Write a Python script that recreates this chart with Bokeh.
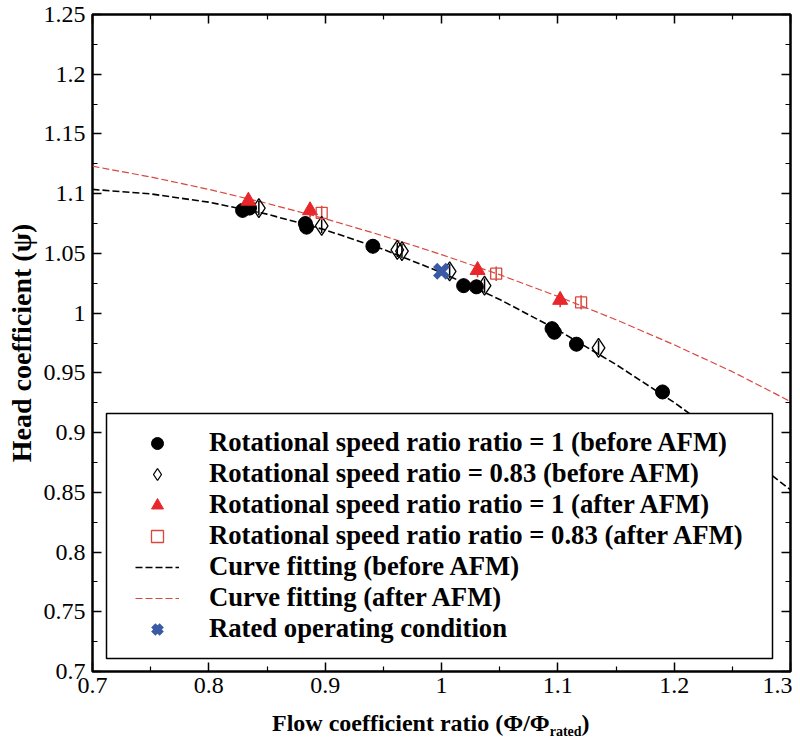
from bokeh.plotting import figure
from bokeh.models import (FixedTicker, CustomJSTickFormatter, LinearAxis, Div,
                          Legend, LegendItem, BoxAnnotation, Range1d)
from bokeh.layouts import column
from bokeh.embed import file_html
from bokeh.resources import INLINE
import math

# ---------------- data ----------------
# Rotational speed ratio = 1 (before AFM)
s1b_x = [0.829, 0.835, 0.883, 0.884, 0.941, 1.019, 1.030, 1.095, 1.097, 1.116, 1.190]
s1b_y = [1.086, 1.088, 1.075, 1.072, 1.056, 1.023, 1.022, 0.987, 0.984, 0.974, 0.934]
# Rotational speed ratio = 0.83 (before AFM)
s083b_x = [0.843, 0.897, 0.962, 0.966, 1.007, 1.037, 1.135]
s083b_y = [1.088, 1.073, 1.053, 1.052, 1.035, 1.023, 0.971]
# Rotational speed ratio = 1 (after AFM)
s1a_x = [0.834, 0.887, 1.031, 1.102]
s1a_y = [1.094, 1.086, 1.036, 1.011]
# Rotational speed ratio = 0.83 (after AFM)
s083a_x = [0.897, 1.047, 1.120]
s083a_y = [1.084, 1.033, 1.009]
# error bar half-length
err_val = 0.006
# Curve fitting (before / after AFM), sampled along the drawn curves
fit_x = [0.70, 0.75, 0.80, 0.85, 0.90, 0.95, 1.00, 1.05, 1.10, 1.15, 1.20, 1.25, 1.30]
fit_before = [1.1036, 1.0998, 1.0929, 1.0829, 1.0697, 1.0534, 1.0340, 1.0115, 0.9858,
              0.9570, 0.9252, 0.8901, 0.8520]
fit_after = [1.1230, 1.1140, 1.1036, 1.0919, 1.0790, 1.0647, 1.0490, 1.0322, 1.0140,
             0.9945, 0.9735, 0.9510, 0.9260]
# Rated operating condition
rated_x = [1.0]
rated_y = [1.035]

x_ticks = [0.7, 0.8, 0.9, 1.0, 1.1, 1.2, 1.3]
x_tick_labels = ["0.7", "0.8", "0.9", "1", "1.1", "1.2", "1.3"]
x_minor = [0.75, 0.85, 0.95, 1.05, 1.15, 1.25]
y_ticks = [0.7, 0.75, 0.8, 0.85, 0.9, 0.95, 1.0, 1.05, 1.1, 1.15, 1.2, 1.25]
y_tick_labels = ["0.7", "0.75", "0.8", "0.85", "0.9", "0.95", "1", "1.05", "1.1", "1.15", "1.2", "1.25"]
y_minor = [0.725, 0.775, 0.825, 0.875, 0.925, 0.975, 1.025, 1.075, 1.125, 1.175, 1.225]

legend_labels = [
    "Rotational speed ratio ratio = 1 (before AFM)",
    "Rotational speed ratio = 0.83 (before AFM)",
    "Rotational speed ratio ratio = 1 (after AFM)",
    "Rotational speed ratio ratio = 0.83 (after AFM)",
    "Curve fitting (before AFM)",
    "Curve fitting (after AFM)",
    "Rated operating condition",
]
x_title_main = "Flow coefficient ratio (\u03a6/\u03a6"
x_title_sub = "rated"
y_title = "Head coefficient (\u03c8)"

# ---------------- styles ----------------
SERIF = "Liberation Serif"
RED = "#e8262b"
RED2 = "#d9473d"
BLUE = "#3b5aa6"

p = figure(width=792, height=706, x_range=Range1d(0.7, 1.3), y_range=Range1d(0.7, 1.25),
           output_backend="svg", toolbar_location=None,
           min_border_left=92, min_border_right=2, min_border_top=14, min_border_bottom=35)
p.xgrid.visible = False
p.ygrid.visible = False
p.outline_line_color = "black"
p.outline_line_width = 2.5
p.background_fill_color = "white"
p.border_fill_color = "white"


def fmt(vals, labs):
    return CustomJSTickFormatter(args=dict(vals=vals, labs=labs), code="""
        for (let i = 0; i < vals.length; i++) { if (Math.abs(vals[i] - tick) < 1e-9) return labs[i]; }
        return '';""")


def style_axis(ax, ticks, minor, labs, show):
    ax.ticker = FixedTicker(ticks=ticks, minor_ticks=minor)
    ax.axis_line_color = None
    ax.major_tick_in = 9
    ax.major_tick_out = 0
    ax.minor_tick_in = 5
    ax.minor_tick_out = 0
    ax.major_tick_line_width = 1.5
    ax.minor_tick_line_width = 1.2
    ax.major_tick_line_color = "black"
    ax.minor_tick_line_color = "black"
    if show:
        ax.formatter = fmt(ticks, labs)
        ax.major_label_text_font = SERIF
        ax.major_label_text_font_size = "24px"
        ax.major_label_text_color = "black"
    else:
        ax.formatter = CustomJSTickFormatter(code="return '';")
        ax.major_label_text_font_size = "0px"
        ax.major_label_standoff = 0
        ax.axis_label_standoff = 0


style_axis(p.xaxis[0], x_ticks, x_minor, x_tick_labels, True)
p.xaxis[0].major_label_standoff = 6
style_axis(p.yaxis[0], y_ticks, y_minor, y_tick_labels, True)
p.yaxis[0].major_label_standoff = 7
p.yaxis[0].axis_label = y_title
p.yaxis[0].axis_label_text_font = SERIF
p.yaxis[0].axis_label_text_font_style = "bold"
p.yaxis[0].axis_label_text_font_size = "28px"
p.yaxis[0].axis_label_text_color = "black"
p.yaxis[0].axis_label_standoff = 4

top_ax = LinearAxis()
style_axis(top_ax, x_ticks, x_minor, x_tick_labels, False)
p.add_layout(top_ax, "above")
right_ax = LinearAxis()
style_axis(right_ax, y_ticks, y_minor, y_tick_labels, False)
p.add_layout(right_ax, "right")

# ---------------- curves ----------------
r_fit_b = p.line(fit_x, fit_before, line_color="black", line_width=1.6, line_dash="7 3")
r_fit_a = p.line(fit_x, fit_after, line_color=RED2, line_width=1.2, line_dash="7 3")


# ---------------- error bars ----------------
def ebar(xs, ys, color):
    p.segment(x0=xs, x1=xs, y0=[y - err_val for y in ys], y1=[y + err_val for y in ys],
              line_color=color, line_width=1.5)


ebar(s1b_x, s1b_y, "black")
ebar(s083b_x, s083b_y, "black")
ebar(s1a_x, s1a_y, RED)
ebar(s083a_x, s083a_y, RED2)

# ---------------- markers ----------------
r_s1b = p.scatter(s1b_x, s1b_y, marker="circle", size=14, fill_color="black", line_color="black")
r_s083b = p.scatter(s083b_x, s083b_y, marker="diamond", size=19, fill_color=None,
                    line_color="black", line_width=1.3)
r_s1a = p.scatter(s1a_x, s1a_y, marker="triangle", size=15, fill_color=RED, line_color=RED)
r_s083a = p.scatter(s083a_x, s083a_y, marker="square", size=11, fill_color=None,
                    line_color=RED2, line_width=1.3)
r_rated = p.scatter(rated_x, rated_y, marker="x", size=18, line_color=BLUE, line_width=6)

# legend-only vertical bars (error-bar symbol)
bar_k = p.scatter([], [], marker="dash", angle=math.pi / 2, size=14, line_color="black", line_width=1.5)
bar_r = p.scatter([], [], marker="dash", angle=math.pi / 2, size=14, line_color=RED, line_width=1.5)
bar_r2 = p.scatter([], [], marker="dash", angle=math.pi / 2, size=14, line_color=RED2, line_width=1.5)

# ---------------- legend ----------------
box = BoxAnnotation(left=14, right=680, bottom=13, top=258,
                    left_units="screen", right_units="screen", top_units="screen", bottom_units="screen",
                    fill_color="white", fill_alpha=1.0, line_color="black", line_alpha=1.0,
                    line_width=1.5)
p.add_layout(box)

items = [
    LegendItem(label=legend_labels[0], renderers=[bar_k, r_s1b]),
    LegendItem(label=legend_labels[1], renderers=[bar_k, r_s083b]),
    LegendItem(label=legend_labels[2], renderers=[bar_r, r_s1a]),
    LegendItem(label=legend_labels[3], renderers=[bar_r2, r_s083a]),
    LegendItem(label=legend_labels[4], renderers=[r_fit_b]),
    LegendItem(label=legend_labels[5], renderers=[r_fit_a]),
    LegendItem(label=legend_labels[6], renderers=[r_rated]),
]
legend = Legend(items=items, location=(43, 27), padding=16, spacing=0,
                glyph_width=44, glyph_height=30, label_height=30, label_standoff=30,
                border_line_color=None, background_fill_alpha=0,
                label_text_font=SERIF, label_text_font_style="bold",
                label_text_font_size="26.7px", label_text_baseline="middle",
                label_text_color="black")
p.add_layout(legend)

# ---------------- x axis title with subscript (HTML text) ----------------
title_html = ('<span style="display:inline-block; margin-left:272px; padding-top:2px; '
              'font-family:\'Liberation Serif\'; font-weight:bold; font-size:24px; '
              'line-height:30px; color:black; white-space:nowrap;">'
              + x_title_main +
              '<span style="font-size:14px; position:relative; top:5px;">' + x_title_sub +
              '</span>)</span>')
xtitle = Div(text=title_html, width=792, height=32, margin=(0, 0, 0, 0))

layout = column(p, xtitle, spacing=0)
open("out.html", "w").write(file_html(layout, INLINE))
